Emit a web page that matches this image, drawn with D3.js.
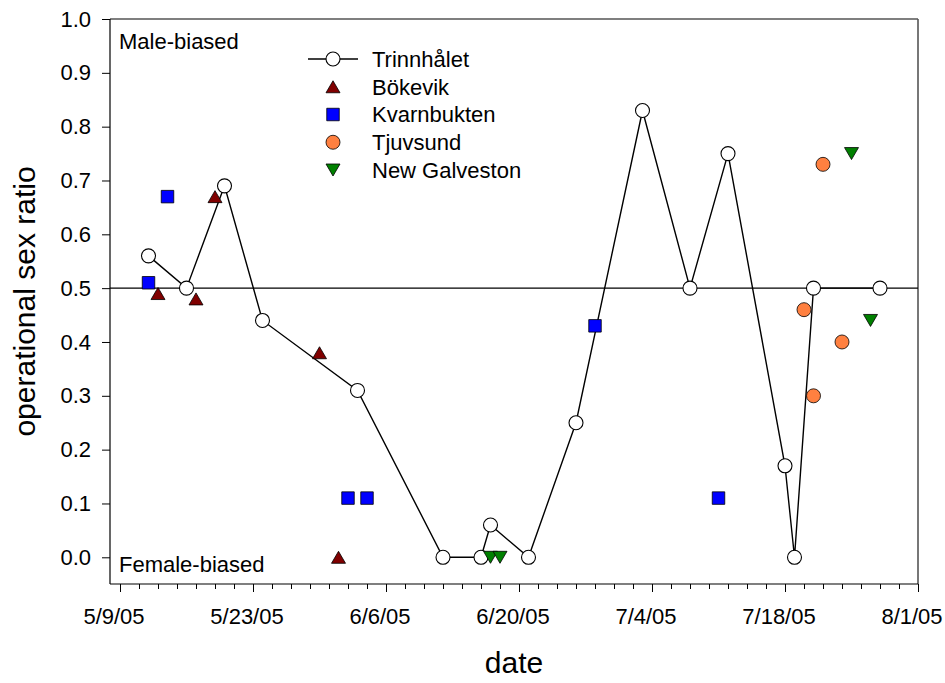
<!DOCTYPE html>
<html>
<head>
<meta charset="utf-8">
<script src="https://cdn.jsdelivr.net/npm/d3@7"></script>
<style>
  html, body { margin: 0; padding: 0; background: #fff; }
  svg { display: block; font-family: "Liberation Sans", Arial, Helvetica, sans-serif; }
</style>
</head>
<body>
<svg id="chart" width="945" height="683"></svg>
<script>
// Operational sex ratio by sampling date, per site
const trinDates = ["2005-05-12","2005-05-16","2005-05-20","2005-05-24","2005-06-03","2005-06-12","2005-06-16","2005-06-17","2005-06-21","2005-06-26","2005-07-03","2005-07-08","2005-07-12","2005-07-18","2005-07-19","2005-07-21","2005-07-28"];
const trinValues = [0.56,0.50,0.69,0.44,0.31,0,0,0.06,0,0.25,0.83,0.50,0.75,0.17,0,0.50,0.50];

const bokDates = ["2005-05-13","2005-05-17","2005-05-19","2005-05-30","2005-06-01"];
const bokValues = [0.49,0.48,0.67,0.38,0];

const kvaDates = ["2005-05-12","2005-05-14","2005-06-02","2005-06-04","2005-06-28","2005-07-11"];
const kvaValues = [0.51,0.67,0.11,0.11,0.43,0.11];

const tjuDates = ["2005-07-20","2005-07-21","2005-07-22","2005-07-24"];
const tjuValues = [0.46,0.30,0.73,0.40];

const galDates = ["2005-06-17","2005-06-18","2005-07-25","2005-07-27"];
const galValues = [0,0,0.75,0.44];

const xTickDates = ["2005-05-09","2005-05-23","2005-06-06","2005-06-20","2005-07-04","2005-07-18","2005-08-01"];
const yTickValues = [0,0.1,0.2,0.3,0.4,0.5,0.6,0.7,0.8,0.9,1.0];

const seriesNames = ["Trinnhålet","Bökevik","Kvarnbukten","Tjuvsund","New Galveston"];

const parse = d3.utcParse("%Y-%m-%d");
const zip = (ds, vs) => ds.map((d, i) => ({ date: parse(d), value: vs[i] }));

const svg = d3.select("#chart");

const frame = { left: 110, right: 918, top: 19, bottom: 584 };

const x = d3.scaleUtc()
  .domain([parse("2005-05-09"), parse("2005-08-01")])
  .range([120, 918]);
const y = d3.scaleLinear()
  .domain([0, 1])
  .range([557.3, 19]);

const fmtDate = d => `${d.getUTCMonth() + 1}/${d.getUTCDate()}/${String(d.getUTCFullYear()).slice(2)}`;

// frame: left/bottom are the axes, top/right in dark grey
svg.append("line").attr("x1", frame.left).attr("x2", frame.right)
  .attr("y1", frame.top).attr("y2", frame.top)
  .attr("stroke", "#555").attr("stroke-width", 1.6);
svg.append("line").attr("x1", frame.right).attr("x2", frame.right)
  .attr("y1", frame.top).attr("y2", frame.bottom)
  .attr("stroke", "#555").attr("stroke-width", 1.6);

// y axis
const yAxis = d3.axisLeft(y).tickValues(yTickValues).tickFormat(d3.format(".1f"))
  .tickSize(8).tickPadding(11);
const gy = svg.append("g").attr("transform", `translate(${frame.left},0)`).call(yAxis);
gy.select(".domain").remove();
gy.append("line").attr("x1", 0).attr("x2", 0).attr("y1", frame.top).attr("y2", frame.bottom)
  .attr("stroke", "#000").attr("stroke-width", 1.2);
gy.selectAll(".tick line").attr("stroke", "#000").attr("stroke-width", 1);
gy.selectAll(".tick text").attr("font-size", 22).attr("fill", "#000")
  .attr("font-family", "Liberation Sans, Arial, sans-serif");

// x axis: minor ticks every 2 days, labelled majors every 14 days
const minorTicks = d3.utcDay.range(parse("2005-05-09"), d3.utcDay.offset(parse("2005-08-01"), 1), 2);
const xMinor = d3.axisBottom(x).tickValues(minorTicks).tickFormat("").tickSize(5);
const gxm = svg.append("g").attr("transform", `translate(0,${frame.bottom})`).call(xMinor);
gxm.select(".domain").remove();
gxm.selectAll(".tick line").attr("stroke", "#000");

const xAxis = d3.axisBottom(x).tickValues(xTickDates.map(parse)).tickFormat(fmtDate)
  .tickSize(8).tickPadding(16);
const gx = svg.append("g").attr("transform", `translate(0,${frame.bottom})`).call(xAxis);
gx.select(".domain").remove();
gx.append("line").attr("x1", frame.left).attr("x2", frame.right).attr("y1", 0).attr("y2", 0)
  .attr("stroke", "#000").attr("stroke-width", 1.2);
gx.selectAll(".tick line").attr("stroke", "#000");
gx.selectAll(".tick text").attr("font-size", 22).attr("fill", "#000").attr("dx", -6.5)
  .attr("font-family", "Liberation Sans, Arial, sans-serif");

// axis titles
svg.append("text").attr("x", 514).attr("y", 673).attr("text-anchor", "middle")
  .attr("font-size", 30).text("date");
svg.append("text").attr("transform", "translate(35,301.5) rotate(-90)")
  .attr("text-anchor", "middle").attr("font-size", 30).text("operational sex ratio");

// region labels
svg.append("text").attr("x", 119).attr("y", 48.5).attr("font-size", 22).text("Male-biased");
svg.append("text").attr("x", 119).attr("y", 572).attr("font-size", 22).text("Female-biased");

// 0.5 reference line
svg.append("line").attr("x1", frame.left).attr("x2", frame.right)
  .attr("y1", y(0.5)).attr("y2", y(0.5)).attr("stroke", "#000").attr("stroke-width", 1.2);

// marker shapes
const triUp = (w, h) => `M0,${-h/2}L${w/2},${h/2}L${-w/2},${h/2}Z`;
const triDown = (w, h) => `M0,${h/2}L${w/2},${-h/2}L${-w/2},${-h/2}Z`;
const square = s => `M${-s/2},${-s/2}h${s}v${s}h${-s}Z`;

const markers = {
  circleWhite: g => g.append("circle").attr("r", 7).attr("fill", "#fff").attr("stroke", "#000").attr("stroke-width", 1.1),
  triUp: g => g.append("path").attr("d", triUp(14, 12)).attr("fill", "#800000").attr("stroke", "#000").attr("stroke-width", 0.8),
  square: g => g.append("path").attr("d", square(12.5)).attr("fill", "#0000ff").attr("stroke", "#000").attr("stroke-width", 0.8),
  circleOrange: g => g.append("circle").attr("r", 7).attr("fill", "#ff8040").attr("stroke", "#000").attr("stroke-width", 0.8),
  triDown: g => g.append("path").attr("d", triDown(14, 12)).attr("fill", "#008000").attr("stroke", "#000").attr("stroke-width", 0.8)
};

// Trinnhålet: connected line with open circles
const trin = zip(trinDates, trinValues);
svg.append("path").datum(trin)
  .attr("fill", "none").attr("stroke", "#000").attr("stroke-width", 1.4)
  .attr("d", d3.line().x(d => x(d.date)).y(d => y(d.value)));

function drawPoints(data, kind) {
  const g = svg.append("g");
  data.forEach(d => {
    const p = g.append("g").attr("transform", `translate(${x(d.date)},${y(d.value)})`);
    markers[kind](p);
  });
}
drawPoints(trin, "circleWhite");
drawPoints(zip(bokDates, bokValues), "triUp");
drawPoints(zip(kvaDates, kvaValues), "square");
drawPoints(zip(tjuDates, tjuValues), "circleOrange");
drawPoints(zip(galDates, galValues), "triDown");

// legend
const legendKinds = ["circleWhite","triUp","square","circleOrange","triDown"];
const legend = svg.append("g");
seriesNames.forEach((name, i) => {
  const cy = 59 + i * 27.75;
  const row = legend.append("g").attr("transform", `translate(333,${cy})`);
  if (i === 0) {
    row.append("line").attr("x1", -25).attr("x2", 25).attr("stroke", "#000").attr("stroke-width", 1.4);
  }
  markers[legendKinds[i]](row);
  legend.append("text").attr("x", 372).attr("y", cy).attr("dy", "0.36em")
    .attr("font-size", 22).text(name);
});
</script>
</body>
</html>
